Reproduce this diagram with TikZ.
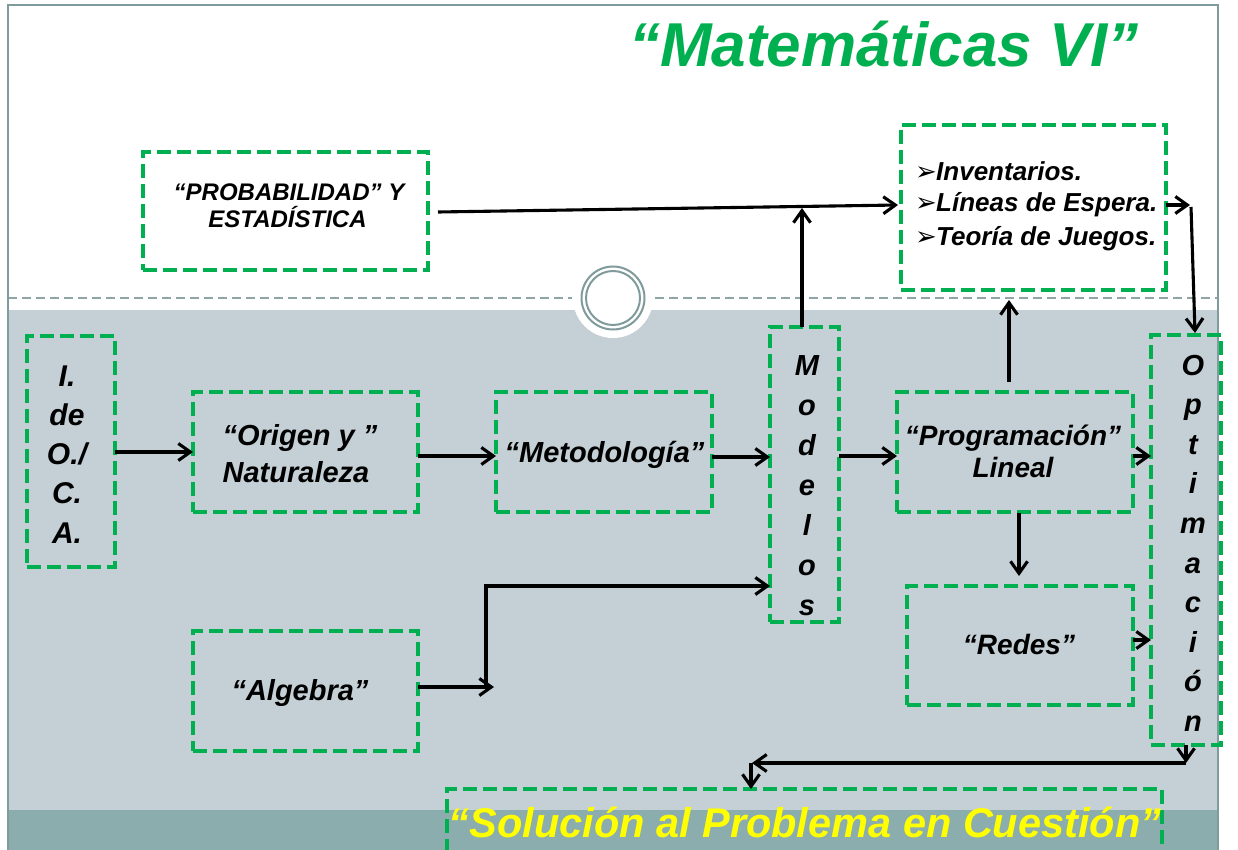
\documentclass[tikz,border=0pt]{standalone}
\usepackage{fontspec}
\setmainfont{Liberation Sans}
\newfontfamily\dejavu{DejaVu Sans}
\usetikzlibrary{calc,arrows.meta}
\definecolor{grn}{HTML}{00B050}
\definecolor{band}{HTML}{C5D0D6}
\definecolor{dband}{HTML}{8BADAD}
\definecolor{frm}{HTML}{7F9B9B}
\definecolor{sepc}{HTML}{8FA5A5}
\definecolor{ylw}{HTML}{FFFF00}
\newcommand\myfs[1]{\fontsize{#1}{#1}\selectfont\bfseries\itshape}
\newcommand\bul{\makebox[21pt][l]{\dejavu\mdseries\upshape\fontsize{26}{26}\selectfont ➢}}
\begin{document}
\begin{tikzpicture}[x=1pt,y=-1pt,
  box/.style={draw=grn, line width=3.8pt, dash pattern=on 14pt off 6pt, inner sep=0pt, outer sep=0pt},
  txt/.style={inner sep=0pt, anchor=base, font=\myfs{#1}},
  txt/.default=28,
  conn/.style={draw=black, line width=3.1pt, -{Straight Barb[length=12pt,width=17pt]}}]
\clip (0,0) rectangle (1238,850);
% background
\fill[white] (0,0) rectangle (1238,850);
\fill[band] (8,310) rectangle (1218,810);
\fill[dband] (8,810) rectangle (1218,850);
\draw[sepc, line width=2pt, dash pattern=on 9pt off 5pt] (8,298) -- (572,298);
\draw[sepc, line width=2pt, dash pattern=on 9pt off 5pt] (655,298) -- (1218,298);
\fill[white] (613,298) circle[radius=40pt];
\draw[frm, line width=2pt] (613,298) circle[radius=31.5pt];
\draw[frm, line width=2pt] (613,298) circle[radius=27pt];
\draw[frm, line width=2.5pt] (8,852) -- (8,5) -- (1218,5) -- (1218,852);
% title
\node[txt=62, text=grn] (title) at (884,67) {“Matemáticas VI”};
% boxes
\node[box, minimum width=285pt, minimum height=118pt] (prob) at (285.5,211) {};
\node[box, minimum width=265pt, minimum height=165pt] (inv) at (1033.5,207.5) {};
\node[box, minimum width=88pt, minimum height=231pt] (ido) at (71,451.5) {};
\node[box, minimum width=225pt, minimum height=120pt] (ori) at (305.5,452) {};
\node[box, minimum width=216pt, minimum height=120pt] (met) at (604,452) {};
\node[box, minimum width=69pt, minimum height=295pt] (mod) at (804.5,474.5) {};
\node[box, minimum width=236pt, minimum height=120pt] (pro) at (1015,452) {};
\node[box, minimum width=226pt, minimum height=119pt] (red) at (1020,645.5) {};
\node[box, minimum width=70pt, minimum height=410pt] (opt) at (1186,540) {};
\node[box, minimum width=225pt, minimum height=120pt] (alg) at (305.5,691) {};
\node[box, minimum width=715pt, minimum height=100pt] (sol) at (804.5,839) {};
% texts
\node[txt=24] (probA) at (289,201) {“PROBABILIDAD” Y};
\node[txt=24] (probB) at (287.5,228) {ESTADÍSTICA};
\node[txt=26, anchor=base west] (invA) at (915,181) {\bul Inventarios.};
\node[txt=26, anchor=base west] (invB) at (915,212) {\bul Líneas de Espera.};
\node[txt=26, anchor=base west] (invC) at (915,245) {\bul Teoría de Juegos.};
\foreach \t [count=\i from 0] in {I.,de,O./,C.,A.}
  \node[txt=30] (ido\i) at (67,{386+39.3*\i}) {\t};
\node[txt=29] (oriA) at (300,445) {“Origen y ”};
\node[txt=29] (oriB) at (296,482) {Naturaleza};
\node[txt=29] (metA) at (604.5,462) {“Metodología”};
\foreach \t [count=\i from 0] in {M,o,d,e,l,o,s}
  \node[txt=29] (modl\i) at (807,{375+40*\i}) {\t};
\node[txt=28] (proA) at (1013,445) {“Programación”};
\node[txt=28] (proB) at (1013,477) {Lineal};
\node[txt=28] (redA) at (1019,654) {“Redes”};
\node[txt=29] (algA) at (300,700) {“Algebra”};
\foreach \t [count=\i from 0] in {O,p,t,i,m,a,c,i,ó,n}
  \node[txt=29] (optl\i) at (1193,{375+39.6*\i}) {\t};
\node[txt=41.5, text=ylw] (solA) at (805,837) {“Solución al Problema en Cuestión”};
% connectors
\draw[conn] ($(prob.east)+(10,1)$) -- ($(inv.west)+(-3,-2.5)$);
\coordinate (pm) at ($(mod.north)+(-2.5,-119)$);
\draw[conn] ($(mod.north)+(-2.5,0)$) -- (pm);
\draw[conn] (ido.east |- ori.west) -- (ori.west);
\draw[conn] ($(ori.east)+(0,4)$) -- ($(met.west)+(0,4)$);
\draw[conn] ($(met.east)+(0,5)$) -- ($(mod.west |- met.east)+(0,5)$);
\draw[conn] ($(mod.east |- pro.west)+(0,4)$) -- ($(pro.west)+(0,4)$);
\draw[conn] ($(pro.east)+(0,4)$) -- ($(opt.west |- pro.east)+(0,4)$);
\draw[conn] ($(red.east)+(0,-5.5)$) -- ($(opt.west |- red.east)+(0,-5.5)$);
\draw[conn] ($(pro.north)+(-6,-10)$) -- ($(inv.south)+(-24.5,10)$);
\draw[conn] ($(pro.south)+(4,1)$) -- ($(red.north)+(-1,-10)$);
\coordinate (lc) at ($(inv.east)+(24,-2.5)$);
\draw[conn] ($(inv.east)+(0,-2.5)$) -- (lc);
\draw[conn] ($(lc)+(1,2)$) -- ($(opt.north)+(9,-2)$);
\coordinate (m1) at ($(opt.south)+(0,18)$);
\draw[conn] (opt.south) -- (m1);
\coordinate (m2) at ($(sol.north)+(-52.5,-26)$);
\draw[conn] (m1) -- (m2);
\draw[conn] ($(m2)+(-1,0)$) -- ($(sol.north)+(-53.5,0)$);
\coordinate (f1) at ($(alg.east)+(0,-4)$);
\draw[conn] (f1) -- ++(76,0);
\draw[conn] ($(f1)+(68,0)$) |- ($(mod.west)+(0,111.5)$);
\end{tikzpicture}
\end{document}
